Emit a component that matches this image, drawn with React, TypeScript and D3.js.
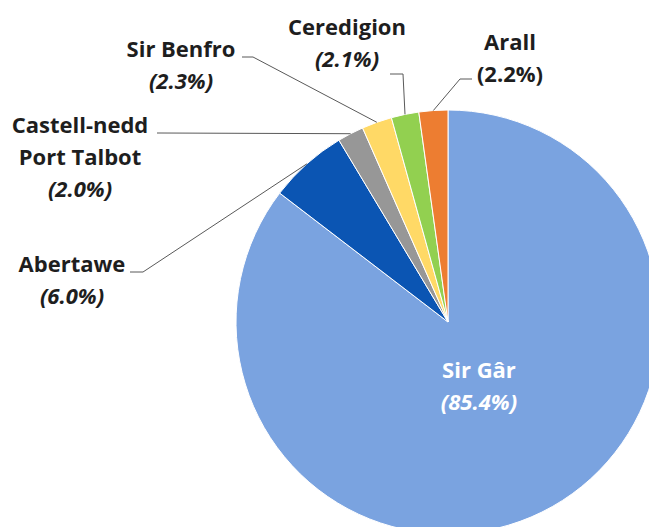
import { useMemo } from 'react';
import * as d3 from 'd3';

const WIDTH = 649;
const HEIGHT = 527;
const CENTER = { x: 448, y: 322 };
const RADIUS = 212;
const FONT = '"Open Sans", "Noto Sans", sans-serif';

// data, clockwise from 12 o'clock
const regions = ['Sir Gâr', 'Abertawe', 'Castell-nedd Port Talbot', 'Sir Benfro', 'Ceredigion', 'Arall'];
const shares = [85.4, 6.0, 2.0, 2.3, 2.1, 2.2];
const sliceColors = ['#7AA3E0', '#0B55B3', '#979797', '#FFD966', '#92D050', '#ED7D31'];

// label placement (layout only): centre x, first baseline, text lines, leader start + elbow
type LabelLayout = {
  cx: number;
  y: number;
  lines: string[];
  italic: boolean;
  lead?: { x: number; y: number; elbow: number };
};

const labelLayout: LabelLayout[] = [
  { cx: 0, y: 0, lines: ['Sir Gâr'], italic: true },
  { cx: 72, y: 272, lines: ['Abertawe'], italic: true, lead: { x: 130, y: 272, elbow: 143 } },
  { cx: 80, y: 133, lines: ['Castell-nedd', 'Port Talbot'], italic: true, lead: { x: 157, y: 133, elbow: 160 } },
  { cx: 181, y: 57, lines: ['Sir Benfro'], italic: true, lead: { x: 242, y: 57, elbow: 253 } },
  { cx: 347, y: 35, lines: ['Ceredigion'], italic: true, lead: { x: 390, y: 74, elbow: 403 } },
  { cx: 510, y: 50, lines: ['Arall'], italic: false, lead: { x: 472, y: 79, elbow: 460 } },
];

const LINE_H = 32;
const fmt = d3.format('.1f');

export default function App() {
  const arcs = useMemo(() => {
    const pie = d3
      .pie<number>()
      .sort(null)
      .value((d) => d);
    return pie(shares);
  }, []);

  const arcPath = d3.arc<d3.PieArcDatum<number>>().innerRadius(0).outerRadius(RADIUS);
  const edgeArc = d3.arc<d3.PieArcDatum<number>>().innerRadius(RADIUS).outerRadius(RADIUS);
  const innerArc = d3.arc<d3.PieArcDatum<number>>().innerRadius(RADIUS * 0.33).outerRadius(RADIUS * 0.33);

  return (
    <svg
      width={WIDTH}
      height={HEIGHT}
      viewBox={`0 0 ${WIDTH} ${HEIGHT}`}
      style={{ position: 'absolute', left: 0, top: 0, background: '#fff' }}
      fontFamily={FONT}
    >
      <g transform={`translate(${CENTER.x},${CENTER.y})`}>
        {arcs.map((a, i) => (
          <path key={i} d={arcPath(a) || ''} fill={sliceColors[i]} stroke="#fff" strokeWidth={1} />
        ))}
      </g>

      {arcs.map((a, i) => {
        const L = labelLayout[i];
        const pct = `(${fmt(shares[i])}%)`;
        if (i === 0) {
          const [x, y] = innerArc.centroid(a);
          const cx = CENTER.x + x;
          const cy = CENTER.y + y;
          return (
            <text key={i} textAnchor="middle" fill="#fff" fontWeight={700} fontSize={22}>
              <tspan x={cx} y={cy - 7}>{L.lines[0]}</tspan>
              <tspan x={cx} y={cy - 7 + LINE_H} fontStyle="italic">{pct}</tspan>
            </text>
          );
        }
        const [ex, ey] = edgeArc.centroid(a);
        const end = [CENTER.x + ex, CENTER.y + ey];
        const lead = L.lead!;
        const d = `M${lead.x},${lead.y}L${lead.elbow},${lead.y}L${end[0]},${end[1]}`;
        return (
          <g key={i}>
            <path d={d} fill="none" stroke="#595959" strokeWidth={1} />
            <text textAnchor="middle" fill="#1e1e1e" fontWeight={700} fontSize={22}>
              {L.lines.map((t, k) => (
                <tspan key={k} x={L.cx} y={L.y + k * LINE_H}>
                  {t}
                </tspan>
              ))}
              <tspan x={L.cx} y={L.y + L.lines.length * LINE_H} fontStyle={L.italic ? 'italic' : 'normal'}>
                {pct}
              </tspan>
            </text>
          </g>
        );
      })}
    </svg>
  );
}
